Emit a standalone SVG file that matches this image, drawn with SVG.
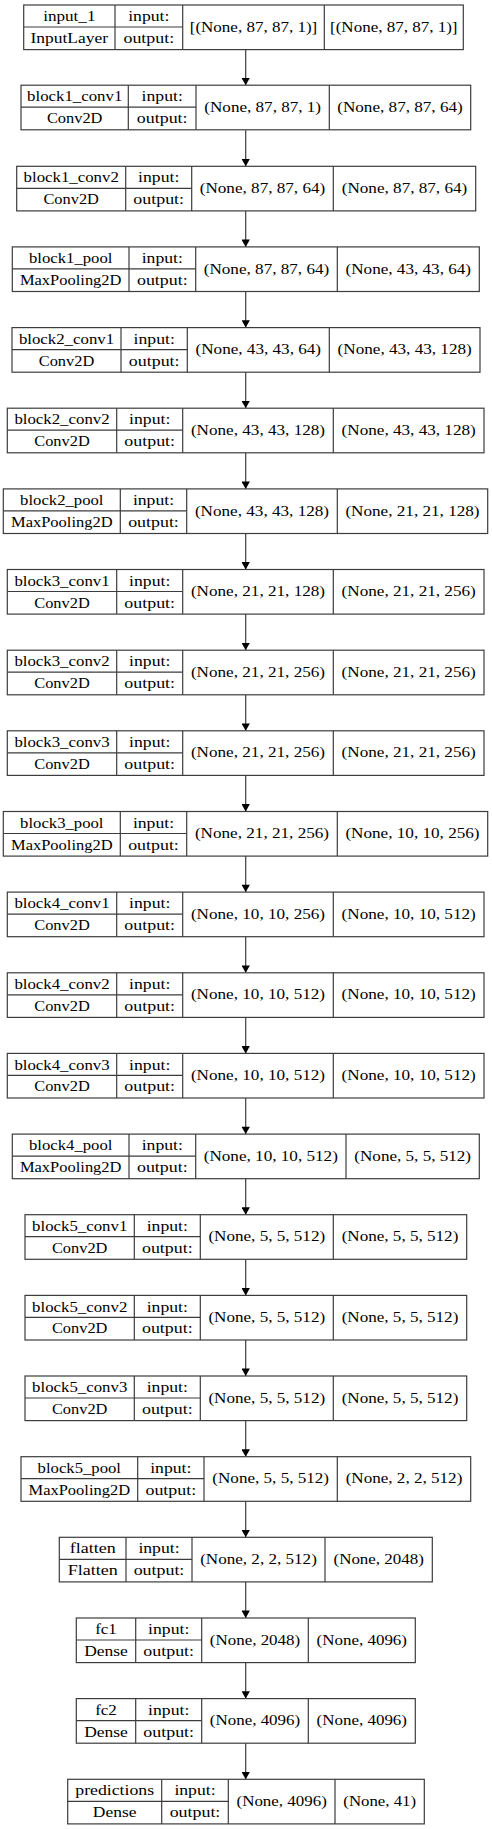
<svg xmlns="http://www.w3.org/2000/svg" width="492" height="1829" viewBox="0 0 492 1829">
<style>
.bg{fill:#fff}
.n rect,.n line{fill:#fff;stroke:#3c3c3c;stroke-width:1.2}
.n text{font-family:"Liberation Serif","DejaVu Serif",serif;font-size:14.6px;fill:#000;text-anchor:middle}
.e line{stroke:#3c3c3c;stroke-width:1.2}
</style>
<defs>
<marker id="ah" markerUnits="userSpaceOnUse" markerWidth="8" markerHeight="8.4" viewBox="0 0 7.4 8.4" refX="7.4" refY="4.2" orient="auto">
<path d="M0,0 L7.4,4.2 L0,8.4 z" fill="#000" stroke="none"/>
</marker>
</defs>
<rect class="bg" x="0" y="0" width="492" height="1829"/>
<g id="connectors" class="e">
<line x1="245.7" y1="49.6" x2="245.7" y2="85.2" marker-end="url(#ah)"/>
<line x1="245.7" y1="130.2" x2="245.7" y2="166.3" marker-end="url(#ah)"/>
<line x1="245.7" y1="210.9" x2="245.7" y2="246.9" marker-end="url(#ah)"/>
<line x1="245.7" y1="291.5" x2="245.7" y2="327.6" marker-end="url(#ah)"/>
<line x1="245.7" y1="372.2" x2="245.7" y2="408.2" marker-end="url(#ah)"/>
<line x1="245.7" y1="452.8" x2="245.7" y2="488.9" marker-end="url(#ah)"/>
<line x1="245.7" y1="533.5" x2="245.7" y2="569.5" marker-end="url(#ah)"/>
<line x1="245.7" y1="614.1" x2="245.7" y2="650.2" marker-end="url(#ah)"/>
<line x1="245.7" y1="694.8" x2="245.7" y2="730.8" marker-end="url(#ah)"/>
<line x1="245.7" y1="775.4" x2="245.7" y2="811.5" marker-end="url(#ah)"/>
<line x1="245.7" y1="856.1" x2="245.7" y2="892.1" marker-end="url(#ah)"/>
<line x1="245.7" y1="936.7" x2="245.7" y2="972.8" marker-end="url(#ah)"/>
<line x1="245.7" y1="1017.4" x2="245.7" y2="1053.4" marker-end="url(#ah)"/>
<line x1="245.7" y1="1098" x2="245.7" y2="1134.1" marker-end="url(#ah)"/>
<line x1="245.7" y1="1178.7" x2="245.7" y2="1214.7" marker-end="url(#ah)"/>
<line x1="245.7" y1="1259.3" x2="245.7" y2="1295.4" marker-end="url(#ah)"/>
<line x1="245.7" y1="1340" x2="245.7" y2="1376" marker-end="url(#ah)"/>
<line x1="245.7" y1="1420.6" x2="245.7" y2="1456.7" marker-end="url(#ah)"/>
<line x1="245.7" y1="1501.3" x2="245.7" y2="1537.3" marker-end="url(#ah)"/>
<line x1="245.7" y1="1581.9" x2="245.7" y2="1618" marker-end="url(#ah)"/>
<line x1="245.7" y1="1662.6" x2="245.7" y2="1698.6" marker-end="url(#ah)"/>
<line x1="245.7" y1="1743.2" x2="245.7" y2="1779.3" marker-end="url(#ah)"/>
</g>

<g id="input_1" class="n" transform="translate(0,5)">
<rect x="23.7" y="0" width="439.6" height="44.6"/>
<line x1="23.7" y1="22" x2="182.7" y2="22"/>
<line x1="115" y1="0" x2="115" y2="44.6"/><line x1="182.7" y1="0" x2="182.7" y2="44.6"/><line x1="324.3" y1="0" x2="324.3" y2="44.6"/>
<text x="69.3" y="16.2" textLength="52.3" lengthAdjust="spacingAndGlyphs">input_1</text><text x="148.8" y="16.2" textLength="41.2" lengthAdjust="spacingAndGlyphs">input:</text>
<text x="69.3" y="38" textLength="77.5" lengthAdjust="spacingAndGlyphs">InputLayer</text><text x="148.8" y="38" textLength="50.7" lengthAdjust="spacingAndGlyphs">output:</text>
<text x="253.5" y="26.7" textLength="127.5" lengthAdjust="spacingAndGlyphs">[(None, 87, 87, 1)]</text><text x="393.8" y="26.7" textLength="127.5" lengthAdjust="spacingAndGlyphs">[(None, 87, 87, 1)]</text>
</g>

<g id="block1_conv1" class="n" transform="translate(0,85.2)">
<rect x="21" y="0" width="449.7" height="44.6"/>
<line x1="21" y1="22" x2="196" y2="22"/>
<line x1="128.3" y1="0" x2="128.3" y2="44.6"/><line x1="196" y1="0" x2="196" y2="44.6"/><line x1="329.3" y1="0" x2="329.3" y2="44.6"/>
<text x="74.7" y="16.2" textLength="95.2" lengthAdjust="spacingAndGlyphs">block1_conv1</text><text x="162.2" y="16.2" textLength="41.2" lengthAdjust="spacingAndGlyphs">input:</text>
<text x="74.7" y="38" textLength="55.5" lengthAdjust="spacingAndGlyphs">Conv2D</text><text x="162.2" y="38" textLength="50.7" lengthAdjust="spacingAndGlyphs">output:</text>
<text x="262.7" y="26.7" textLength="116.7" lengthAdjust="spacingAndGlyphs">(None, 87, 87, 1)</text><text x="400" y="26.7" textLength="125.5" lengthAdjust="spacingAndGlyphs">(None, 87, 87, 64)</text>
</g>

<g id="block1_conv2" class="n" transform="translate(0,166.3)">
<rect x="16.7" y="0" width="459" height="44.6"/>
<line x1="16.7" y1="22" x2="191.7" y2="22"/>
<line x1="125.7" y1="0" x2="125.7" y2="44.6"/><line x1="191.7" y1="0" x2="191.7" y2="44.6"/><line x1="333.3" y1="0" x2="333.3" y2="44.6"/>
<text x="71.2" y="16.2" textLength="95.2" lengthAdjust="spacingAndGlyphs">block1_conv2</text><text x="158.7" y="16.2" textLength="41.2" lengthAdjust="spacingAndGlyphs">input:</text>
<text x="71.2" y="38" textLength="55.5" lengthAdjust="spacingAndGlyphs">Conv2D</text><text x="158.7" y="38" textLength="50.7" lengthAdjust="spacingAndGlyphs">output:</text>
<text x="262.5" y="26.7" textLength="125.5" lengthAdjust="spacingAndGlyphs">(None, 87, 87, 64)</text><text x="404.5" y="26.7" textLength="125.5" lengthAdjust="spacingAndGlyphs">(None, 87, 87, 64)</text>
</g>

<g id="block1_pool" class="n" transform="translate(0,246.9)">
<rect x="12.3" y="0" width="467" height="44.6"/>
<line x1="12.3" y1="22" x2="195.7" y2="22"/>
<line x1="129" y1="0" x2="129" y2="44.6"/><line x1="195.7" y1="0" x2="195.7" y2="44.6"/><line x1="337.3" y1="0" x2="337.3" y2="44.6"/>
<text x="70.7" y="16.2" textLength="83.4" lengthAdjust="spacingAndGlyphs">block1_pool</text><text x="162.3" y="16.2" textLength="41.2" lengthAdjust="spacingAndGlyphs">input:</text>
<text x="70.7" y="38" textLength="101.6" lengthAdjust="spacingAndGlyphs">MaxPooling2D</text><text x="162.3" y="38" textLength="50.7" lengthAdjust="spacingAndGlyphs">output:</text>
<text x="266.5" y="26.7" textLength="125.5" lengthAdjust="spacingAndGlyphs">(None, 87, 87, 64)</text><text x="408.3" y="26.7" textLength="125.5" lengthAdjust="spacingAndGlyphs">(None, 43, 43, 64)</text>
</g>

<g id="block2_conv1" class="n" transform="translate(0,327.6)">
<rect x="12" y="0" width="468" height="44.6"/>
<line x1="12" y1="22" x2="187.3" y2="22"/>
<line x1="121" y1="0" x2="121" y2="44.6"/><line x1="187.3" y1="0" x2="187.3" y2="44.6"/><line x1="329.3" y1="0" x2="329.3" y2="44.6"/>
<text x="66.5" y="16.2" textLength="95.2" lengthAdjust="spacingAndGlyphs">block2_conv1</text><text x="154.2" y="16.2" textLength="41.2" lengthAdjust="spacingAndGlyphs">input:</text>
<text x="66.5" y="38" textLength="55.5" lengthAdjust="spacingAndGlyphs">Conv2D</text><text x="154.2" y="38" textLength="50.7" lengthAdjust="spacingAndGlyphs">output:</text>
<text x="258.3" y="26.7" textLength="125.5" lengthAdjust="spacingAndGlyphs">(None, 43, 43, 64)</text><text x="404.7" y="26.7" textLength="134.2" lengthAdjust="spacingAndGlyphs">(None, 43, 43, 128)</text>
</g>

<g id="block2_conv2" class="n" transform="translate(0,408.2)">
<rect x="7.3" y="0" width="476.7" height="44.6"/>
<line x1="7.3" y1="22" x2="182.7" y2="22"/>
<line x1="116.7" y1="0" x2="116.7" y2="44.6"/><line x1="182.7" y1="0" x2="182.7" y2="44.6"/><line x1="333.3" y1="0" x2="333.3" y2="44.6"/>
<text x="62" y="16.2" textLength="95.2" lengthAdjust="spacingAndGlyphs">block2_conv2</text><text x="149.7" y="16.2" textLength="41.2" lengthAdjust="spacingAndGlyphs">input:</text>
<text x="62" y="38" textLength="55.5" lengthAdjust="spacingAndGlyphs">Conv2D</text><text x="149.7" y="38" textLength="50.7" lengthAdjust="spacingAndGlyphs">output:</text>
<text x="258" y="26.7" textLength="134.2" lengthAdjust="spacingAndGlyphs">(None, 43, 43, 128)</text><text x="408.7" y="26.7" textLength="134.2" lengthAdjust="spacingAndGlyphs">(None, 43, 43, 128)</text>
</g>

<g id="block2_pool" class="n" transform="translate(0,488.9)">
<rect x="3.3" y="0" width="484.4" height="44.6"/>
<line x1="3.3" y1="22" x2="186.7" y2="22"/>
<line x1="120.3" y1="0" x2="120.3" y2="44.6"/><line x1="186.7" y1="0" x2="186.7" y2="44.6"/><line x1="337.3" y1="0" x2="337.3" y2="44.6"/>
<text x="61.8" y="16.2" textLength="83.4" lengthAdjust="spacingAndGlyphs">block2_pool</text><text x="153.5" y="16.2" textLength="41.2" lengthAdjust="spacingAndGlyphs">input:</text>
<text x="61.8" y="38" textLength="101.6" lengthAdjust="spacingAndGlyphs">MaxPooling2D</text><text x="153.5" y="38" textLength="50.7" lengthAdjust="spacingAndGlyphs">output:</text>
<text x="262" y="26.7" textLength="134.2" lengthAdjust="spacingAndGlyphs">(None, 43, 43, 128)</text><text x="412.5" y="26.7" textLength="134.2" lengthAdjust="spacingAndGlyphs">(None, 21, 21, 128)</text>
</g>

<g id="block3_conv1" class="n" transform="translate(0,569.5)">
<rect x="7.3" y="0" width="476.7" height="44.6"/>
<line x1="7.3" y1="22" x2="182.7" y2="22"/>
<line x1="116.7" y1="0" x2="116.7" y2="44.6"/><line x1="182.7" y1="0" x2="182.7" y2="44.6"/><line x1="333.3" y1="0" x2="333.3" y2="44.6"/>
<text x="62" y="16.2" textLength="95.2" lengthAdjust="spacingAndGlyphs">block3_conv1</text><text x="149.7" y="16.2" textLength="41.2" lengthAdjust="spacingAndGlyphs">input:</text>
<text x="62" y="38" textLength="55.5" lengthAdjust="spacingAndGlyphs">Conv2D</text><text x="149.7" y="38" textLength="50.7" lengthAdjust="spacingAndGlyphs">output:</text>
<text x="258" y="26.7" textLength="134.2" lengthAdjust="spacingAndGlyphs">(None, 21, 21, 128)</text><text x="408.7" y="26.7" textLength="134.2" lengthAdjust="spacingAndGlyphs">(None, 21, 21, 256)</text>
</g>

<g id="block3_conv2" class="n" transform="translate(0,650.2)">
<rect x="7.3" y="0" width="476.7" height="44.6"/>
<line x1="7.3" y1="22" x2="182.7" y2="22"/>
<line x1="116.7" y1="0" x2="116.7" y2="44.6"/><line x1="182.7" y1="0" x2="182.7" y2="44.6"/><line x1="333.3" y1="0" x2="333.3" y2="44.6"/>
<text x="62" y="16.2" textLength="95.2" lengthAdjust="spacingAndGlyphs">block3_conv2</text><text x="149.7" y="16.2" textLength="41.2" lengthAdjust="spacingAndGlyphs">input:</text>
<text x="62" y="38" textLength="55.5" lengthAdjust="spacingAndGlyphs">Conv2D</text><text x="149.7" y="38" textLength="50.7" lengthAdjust="spacingAndGlyphs">output:</text>
<text x="258" y="26.7" textLength="134.2" lengthAdjust="spacingAndGlyphs">(None, 21, 21, 256)</text><text x="408.7" y="26.7" textLength="134.2" lengthAdjust="spacingAndGlyphs">(None, 21, 21, 256)</text>
</g>

<g id="block3_conv3" class="n" transform="translate(0,730.8)">
<rect x="7.3" y="0" width="476.7" height="44.6"/>
<line x1="7.3" y1="22" x2="182.7" y2="22"/>
<line x1="116.7" y1="0" x2="116.7" y2="44.6"/><line x1="182.7" y1="0" x2="182.7" y2="44.6"/><line x1="333.3" y1="0" x2="333.3" y2="44.6"/>
<text x="62" y="16.2" textLength="95.2" lengthAdjust="spacingAndGlyphs">block3_conv3</text><text x="149.7" y="16.2" textLength="41.2" lengthAdjust="spacingAndGlyphs">input:</text>
<text x="62" y="38" textLength="55.5" lengthAdjust="spacingAndGlyphs">Conv2D</text><text x="149.7" y="38" textLength="50.7" lengthAdjust="spacingAndGlyphs">output:</text>
<text x="258" y="26.7" textLength="134.2" lengthAdjust="spacingAndGlyphs">(None, 21, 21, 256)</text><text x="408.7" y="26.7" textLength="134.2" lengthAdjust="spacingAndGlyphs">(None, 21, 21, 256)</text>
</g>

<g id="block3_pool" class="n" transform="translate(0,811.5)">
<rect x="3.3" y="0" width="484.4" height="44.6"/>
<line x1="3.3" y1="22" x2="186.7" y2="22"/>
<line x1="120.3" y1="0" x2="120.3" y2="44.6"/><line x1="186.7" y1="0" x2="186.7" y2="44.6"/><line x1="337.3" y1="0" x2="337.3" y2="44.6"/>
<text x="61.8" y="16.2" textLength="83.4" lengthAdjust="spacingAndGlyphs">block3_pool</text><text x="153.5" y="16.2" textLength="41.2" lengthAdjust="spacingAndGlyphs">input:</text>
<text x="61.8" y="38" textLength="101.6" lengthAdjust="spacingAndGlyphs">MaxPooling2D</text><text x="153.5" y="38" textLength="50.7" lengthAdjust="spacingAndGlyphs">output:</text>
<text x="262" y="26.7" textLength="134.2" lengthAdjust="spacingAndGlyphs">(None, 21, 21, 256)</text><text x="412.5" y="26.7" textLength="134.2" lengthAdjust="spacingAndGlyphs">(None, 10, 10, 256)</text>
</g>

<g id="block4_conv1" class="n" transform="translate(0,892.1)">
<rect x="7.3" y="0" width="476.7" height="44.6"/>
<line x1="7.3" y1="22" x2="182.7" y2="22"/>
<line x1="116.7" y1="0" x2="116.7" y2="44.6"/><line x1="182.7" y1="0" x2="182.7" y2="44.6"/><line x1="333.3" y1="0" x2="333.3" y2="44.6"/>
<text x="62" y="16.2" textLength="95.2" lengthAdjust="spacingAndGlyphs">block4_conv1</text><text x="149.7" y="16.2" textLength="41.2" lengthAdjust="spacingAndGlyphs">input:</text>
<text x="62" y="38" textLength="55.5" lengthAdjust="spacingAndGlyphs">Conv2D</text><text x="149.7" y="38" textLength="50.7" lengthAdjust="spacingAndGlyphs">output:</text>
<text x="258" y="26.7" textLength="134.2" lengthAdjust="spacingAndGlyphs">(None, 10, 10, 256)</text><text x="408.7" y="26.7" textLength="134.2" lengthAdjust="spacingAndGlyphs">(None, 10, 10, 512)</text>
</g>

<g id="block4_conv2" class="n" transform="translate(0,972.8)">
<rect x="7.3" y="0" width="476.7" height="44.6"/>
<line x1="7.3" y1="22" x2="182.7" y2="22"/>
<line x1="116.7" y1="0" x2="116.7" y2="44.6"/><line x1="182.7" y1="0" x2="182.7" y2="44.6"/><line x1="333.3" y1="0" x2="333.3" y2="44.6"/>
<text x="62" y="16.2" textLength="95.2" lengthAdjust="spacingAndGlyphs">block4_conv2</text><text x="149.7" y="16.2" textLength="41.2" lengthAdjust="spacingAndGlyphs">input:</text>
<text x="62" y="38" textLength="55.5" lengthAdjust="spacingAndGlyphs">Conv2D</text><text x="149.7" y="38" textLength="50.7" lengthAdjust="spacingAndGlyphs">output:</text>
<text x="258" y="26.7" textLength="134.2" lengthAdjust="spacingAndGlyphs">(None, 10, 10, 512)</text><text x="408.7" y="26.7" textLength="134.2" lengthAdjust="spacingAndGlyphs">(None, 10, 10, 512)</text>
</g>

<g id="block4_conv3" class="n" transform="translate(0,1053.4)">
<rect x="7.3" y="0" width="476.7" height="44.6"/>
<line x1="7.3" y1="22" x2="182.7" y2="22"/>
<line x1="116.7" y1="0" x2="116.7" y2="44.6"/><line x1="182.7" y1="0" x2="182.7" y2="44.6"/><line x1="333.3" y1="0" x2="333.3" y2="44.6"/>
<text x="62" y="16.2" textLength="95.2" lengthAdjust="spacingAndGlyphs">block4_conv3</text><text x="149.7" y="16.2" textLength="41.2" lengthAdjust="spacingAndGlyphs">input:</text>
<text x="62" y="38" textLength="55.5" lengthAdjust="spacingAndGlyphs">Conv2D</text><text x="149.7" y="38" textLength="50.7" lengthAdjust="spacingAndGlyphs">output:</text>
<text x="258" y="26.7" textLength="134.2" lengthAdjust="spacingAndGlyphs">(None, 10, 10, 512)</text><text x="408.7" y="26.7" textLength="134.2" lengthAdjust="spacingAndGlyphs">(None, 10, 10, 512)</text>
</g>

<g id="block4_pool" class="n" transform="translate(0,1134.1)">
<rect x="12.3" y="0" width="467" height="44.6"/>
<line x1="12.3" y1="22" x2="195.7" y2="22"/>
<line x1="129" y1="0" x2="129" y2="44.6"/><line x1="195.7" y1="0" x2="195.7" y2="44.6"/><line x1="346" y1="0" x2="346" y2="44.6"/>
<text x="70.7" y="16.2" textLength="83.4" lengthAdjust="spacingAndGlyphs">block4_pool</text><text x="162.3" y="16.2" textLength="41.2" lengthAdjust="spacingAndGlyphs">input:</text>
<text x="70.7" y="38" textLength="101.6" lengthAdjust="spacingAndGlyphs">MaxPooling2D</text><text x="162.3" y="38" textLength="50.7" lengthAdjust="spacingAndGlyphs">output:</text>
<text x="270.8" y="26.7" textLength="134.2" lengthAdjust="spacingAndGlyphs">(None, 10, 10, 512)</text><text x="412.7" y="26.7" textLength="116.7" lengthAdjust="spacingAndGlyphs">(None, 5, 5, 512)</text>
</g>

<g id="block5_conv1" class="n" transform="translate(0,1214.7)">
<rect x="25" y="0" width="441.7" height="44.6"/>
<line x1="25" y1="22" x2="200.3" y2="22"/>
<line x1="134.3" y1="0" x2="134.3" y2="44.6"/><line x1="200.3" y1="0" x2="200.3" y2="44.6"/><line x1="333.3" y1="0" x2="333.3" y2="44.6"/>
<text x="79.7" y="16.2" textLength="95.2" lengthAdjust="spacingAndGlyphs">block5_conv1</text><text x="167.3" y="16.2" textLength="41.2" lengthAdjust="spacingAndGlyphs">input:</text>
<text x="79.7" y="38" textLength="55.5" lengthAdjust="spacingAndGlyphs">Conv2D</text><text x="167.3" y="38" textLength="50.7" lengthAdjust="spacingAndGlyphs">output:</text>
<text x="266.8" y="26.7" textLength="116.7" lengthAdjust="spacingAndGlyphs">(None, 5, 5, 512)</text><text x="400" y="26.7" textLength="116.7" lengthAdjust="spacingAndGlyphs">(None, 5, 5, 512)</text>
</g>

<g id="block5_conv2" class="n" transform="translate(0,1295.4)">
<rect x="25" y="0" width="441.7" height="44.6"/>
<line x1="25" y1="22" x2="200.3" y2="22"/>
<line x1="134.3" y1="0" x2="134.3" y2="44.6"/><line x1="200.3" y1="0" x2="200.3" y2="44.6"/><line x1="333.3" y1="0" x2="333.3" y2="44.6"/>
<text x="79.7" y="16.2" textLength="95.2" lengthAdjust="spacingAndGlyphs">block5_conv2</text><text x="167.3" y="16.2" textLength="41.2" lengthAdjust="spacingAndGlyphs">input:</text>
<text x="79.7" y="38" textLength="55.5" lengthAdjust="spacingAndGlyphs">Conv2D</text><text x="167.3" y="38" textLength="50.7" lengthAdjust="spacingAndGlyphs">output:</text>
<text x="266.8" y="26.7" textLength="116.7" lengthAdjust="spacingAndGlyphs">(None, 5, 5, 512)</text><text x="400" y="26.7" textLength="116.7" lengthAdjust="spacingAndGlyphs">(None, 5, 5, 512)</text>
</g>

<g id="block5_conv3" class="n" transform="translate(0,1376)">
<rect x="25" y="0" width="441.7" height="44.6"/>
<line x1="25" y1="22" x2="200.3" y2="22"/>
<line x1="134.3" y1="0" x2="134.3" y2="44.6"/><line x1="200.3" y1="0" x2="200.3" y2="44.6"/><line x1="333.3" y1="0" x2="333.3" y2="44.6"/>
<text x="79.7" y="16.2" textLength="95.2" lengthAdjust="spacingAndGlyphs">block5_conv3</text><text x="167.3" y="16.2" textLength="41.2" lengthAdjust="spacingAndGlyphs">input:</text>
<text x="79.7" y="38" textLength="55.5" lengthAdjust="spacingAndGlyphs">Conv2D</text><text x="167.3" y="38" textLength="50.7" lengthAdjust="spacingAndGlyphs">output:</text>
<text x="266.8" y="26.7" textLength="116.7" lengthAdjust="spacingAndGlyphs">(None, 5, 5, 512)</text><text x="400" y="26.7" textLength="116.7" lengthAdjust="spacingAndGlyphs">(None, 5, 5, 512)</text>
</g>

<g id="block5_pool" class="n" transform="translate(0,1456.7)">
<rect x="21" y="0" width="449.7" height="44.6"/>
<line x1="21" y1="22" x2="204" y2="22"/>
<line x1="137.7" y1="0" x2="137.7" y2="44.6"/><line x1="204" y1="0" x2="204" y2="44.6"/><line x1="337.3" y1="0" x2="337.3" y2="44.6"/>
<text x="79.3" y="16.2" textLength="83.4" lengthAdjust="spacingAndGlyphs">block5_pool</text><text x="170.8" y="16.2" textLength="41.2" lengthAdjust="spacingAndGlyphs">input:</text>
<text x="79.3" y="38" textLength="101.6" lengthAdjust="spacingAndGlyphs">MaxPooling2D</text><text x="170.8" y="38" textLength="50.7" lengthAdjust="spacingAndGlyphs">output:</text>
<text x="270.7" y="26.7" textLength="116.7" lengthAdjust="spacingAndGlyphs">(None, 5, 5, 512)</text><text x="404" y="26.7" textLength="116.7" lengthAdjust="spacingAndGlyphs">(None, 2, 2, 512)</text>
</g>

<g id="flatten" class="n" transform="translate(0,1537.3)">
<rect x="59.3" y="0" width="373" height="44.6"/>
<line x1="59.3" y1="22" x2="192" y2="22"/>
<line x1="126" y1="0" x2="126" y2="44.6"/><line x1="192" y1="0" x2="192" y2="44.6"/><line x1="325" y1="0" x2="325" y2="44.6"/>
<text x="92.7" y="16.2" textLength="45.9" lengthAdjust="spacingAndGlyphs">flatten</text><text x="159" y="16.2" textLength="41.2" lengthAdjust="spacingAndGlyphs">input:</text>
<text x="92.7" y="38" textLength="50.1" lengthAdjust="spacingAndGlyphs">Flatten</text><text x="159" y="38" textLength="50.7" lengthAdjust="spacingAndGlyphs">output:</text>
<text x="258.5" y="26.7" textLength="116.7" lengthAdjust="spacingAndGlyphs">(None, 2, 2, 512)</text><text x="378.7" y="26.7" textLength="90.4" lengthAdjust="spacingAndGlyphs">(None, 2048)</text>
</g>

<g id="fc1" class="n" transform="translate(0,1618)">
<rect x="76.3" y="0" width="339" height="44.6"/>
<line x1="76.3" y1="22" x2="201.7" y2="22"/>
<line x1="135.7" y1="0" x2="135.7" y2="44.6"/><line x1="201.7" y1="0" x2="201.7" y2="44.6"/><line x1="308.3" y1="0" x2="308.3" y2="44.6"/>
<text x="106" y="16.2" textLength="21.6" lengthAdjust="spacingAndGlyphs">fc1</text><text x="168.7" y="16.2" textLength="41.2" lengthAdjust="spacingAndGlyphs">input:</text>
<text x="106" y="38" textLength="43.7" lengthAdjust="spacingAndGlyphs">Dense</text><text x="168.7" y="38" textLength="50.7" lengthAdjust="spacingAndGlyphs">output:</text>
<text x="255" y="26.7" textLength="90.4" lengthAdjust="spacingAndGlyphs">(None, 2048)</text><text x="361.8" y="26.7" textLength="90.4" lengthAdjust="spacingAndGlyphs">(None, 4096)</text>
</g>

<g id="fc2" class="n" transform="translate(0,1698.6)">
<rect x="76.3" y="0" width="339" height="44.6"/>
<line x1="76.3" y1="22" x2="201.7" y2="22"/>
<line x1="135.7" y1="0" x2="135.7" y2="44.6"/><line x1="201.7" y1="0" x2="201.7" y2="44.6"/><line x1="308.3" y1="0" x2="308.3" y2="44.6"/>
<text x="106" y="16.2" textLength="21.6" lengthAdjust="spacingAndGlyphs">fc2</text><text x="168.7" y="16.2" textLength="41.2" lengthAdjust="spacingAndGlyphs">input:</text>
<text x="106" y="38" textLength="43.7" lengthAdjust="spacingAndGlyphs">Dense</text><text x="168.7" y="38" textLength="50.7" lengthAdjust="spacingAndGlyphs">output:</text>
<text x="255" y="26.7" textLength="90.4" lengthAdjust="spacingAndGlyphs">(None, 4096)</text><text x="361.8" y="26.7" textLength="90.4" lengthAdjust="spacingAndGlyphs">(None, 4096)</text>
</g>

<g id="predictions" class="n" transform="translate(0,1779.3)">
<rect x="67.7" y="0" width="356.6" height="44.6"/>
<line x1="67.7" y1="22" x2="228.3" y2="22"/>
<line x1="161.7" y1="0" x2="161.7" y2="44.6"/><line x1="228.3" y1="0" x2="228.3" y2="44.6"/><line x1="335" y1="0" x2="335" y2="44.6"/>
<text x="114.7" y="16.2" textLength="78.9" lengthAdjust="spacingAndGlyphs">predictions</text><text x="195" y="16.2" textLength="41.2" lengthAdjust="spacingAndGlyphs">input:</text>
<text x="114.7" y="38" textLength="43.7" lengthAdjust="spacingAndGlyphs">Dense</text><text x="195" y="38" textLength="50.7" lengthAdjust="spacingAndGlyphs">output:</text>
<text x="281.7" y="26.7" textLength="90.4" lengthAdjust="spacingAndGlyphs">(None, 4096)</text><text x="379.7" y="26.7" textLength="72.8" lengthAdjust="spacingAndGlyphs">(None, 41)</text>
</g>
</svg>
